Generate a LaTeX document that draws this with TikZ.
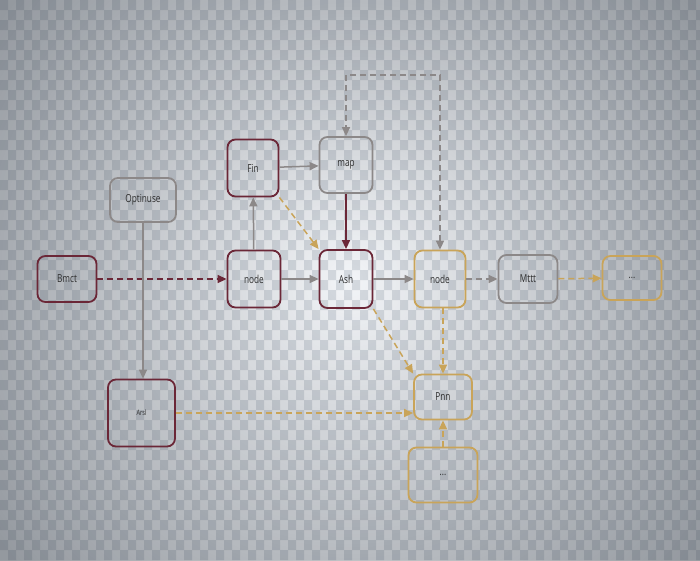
\documentclass[tikz,border=0pt]{standalone}
\usepackage{fontspec}
\setmainfont{Open Sans}[FakeStretch=0.75]
\usetikzlibrary{arrows.meta,fadings}
\definecolor{maroon}{HTML}{6B2737}
\definecolor{greyc}{HTML}{8C8888}
\definecolor{goldc}{HTML}{C9A459}
\definecolor{bglight}{HTML}{F3F5F8}
\definecolor{bgdark}{HTML}{D5DAE0}
\definecolor{vign}{HTML}{2E3640}
\tikzfading[name=vignfade, inner color=transparent!100, outer color=transparent!0]
\begin{document}
\begin{tikzpicture}[x=1pt,y=-1pt,
  box/.style={draw, line width=1.8pt, rounded corners=8pt, inner sep=0pt, font=\fontsize{11}{13}\selectfont, text=black!82},
  mbox/.style={box, draw=maroon},
  gbox/.style={box, draw=greyc},
  ybox/.style={box, draw=goldc},
  arr/.style={line width=1.5pt, -{Triangle[length=9pt,width=8pt]}},
  dsh/.style={dash pattern=on 6pt off 4pt}
]
\useasboundingbox (0,0) rectangle (700,560);
\fill[bglight] (0,0) rectangle (700,560);
\foreach \j in {0,...,55}{
  \pgfmathtruncatemacro{\off}{mod(\j,2)*8}
  \fill[bgdark] \foreach \i in {0,...,43}{ (\off+16*\i,10*\j) rectangle ++(8,10) };
}
\fill[vign, fill opacity=0.48, path fading=vignfade, fit fading=true] (-86,-156) rectangle (786,716);

\node[mbox, minimum width=59pt, minimum height=46pt] (bmct) at (67,279) {Bmct};
\node[gbox, minimum width=66pt, minimum height=44pt] (opt) at (143,200) {Optinuse};
\node[mbox, minimum width=51pt, minimum height=57pt] (fin) at (253,168) {Fin};
\node[gbox, minimum width=53pt, minimum height=56pt] (map) at (346,165) {map};
\node[mbox, minimum width=53pt, minimum height=57pt] (node1) at (254,279) {node};
\node[mbox, minimum width=53pt, minimum height=58pt] (ash) at (346,279) {Ash};
\node[ybox, minimum width=51pt, minimum height=57pt] (node2) at (440,279) {node};
\node[gbox, minimum width=59pt, minimum height=48pt] (mttt) at (528,279) {Mttt};
\node[ybox, minimum width=59pt, minimum height=44pt] (dotsr) at (632,278) {...};
\node[mbox, minimum width=67pt, minimum height=67pt, font=\fontsize{7.5}{9}\selectfont] (arsl) at (141.5,413) {Arsl};
\node[ybox, minimum width=58pt, minimum height=45pt] (pnn) at (443,397) {Pnn};
\node[ybox, minimum width=69pt, minimum height=55pt] (dotsb) at (443,475) {...};

\coordinate (lt) at (346,75);
\coordinate (rt) at (440,75);

\draw[arr, maroon, dsh] (bmct) -- (node1);
\draw[arr, greyc] (opt.south) -- (opt.south |- arsl.north);
\draw[arr, greyc] (node1) -- (fin);
\draw[arr, greyc] (fin) -- (map);
\draw[arr, goldc, dsh] (fin.south east) -- (ash.north west);
\draw[arr, maroon] (map) -- (ash);
\draw[arr, greyc] (node1) -- (ash);
\draw[arr, greyc] (ash) -- (node2);
\draw[line width=1.5pt, greyc, dsh, {Triangle[length=9pt,width=8pt]}-{Triangle[length=9pt,width=8pt]}] (node2.north) -- (rt) -- (lt) -- (map.north);
\draw[arr, greyc, dsh] (node2) -- (mttt);
\draw[arr, goldc, dsh] (mttt) -- (dotsr);
\draw[arr, goldc, dsh] (ash.south east) -- (pnn.north west);
\draw[arr, goldc, dsh] (node2.south -| pnn.north) -- (pnn.north);
\draw[arr, goldc, dsh] (arsl.east) -- (arsl.east -| pnn.west);
\draw[arr, goldc, dsh] (dotsb) -- (pnn);
\end{tikzpicture}
\end{document}
